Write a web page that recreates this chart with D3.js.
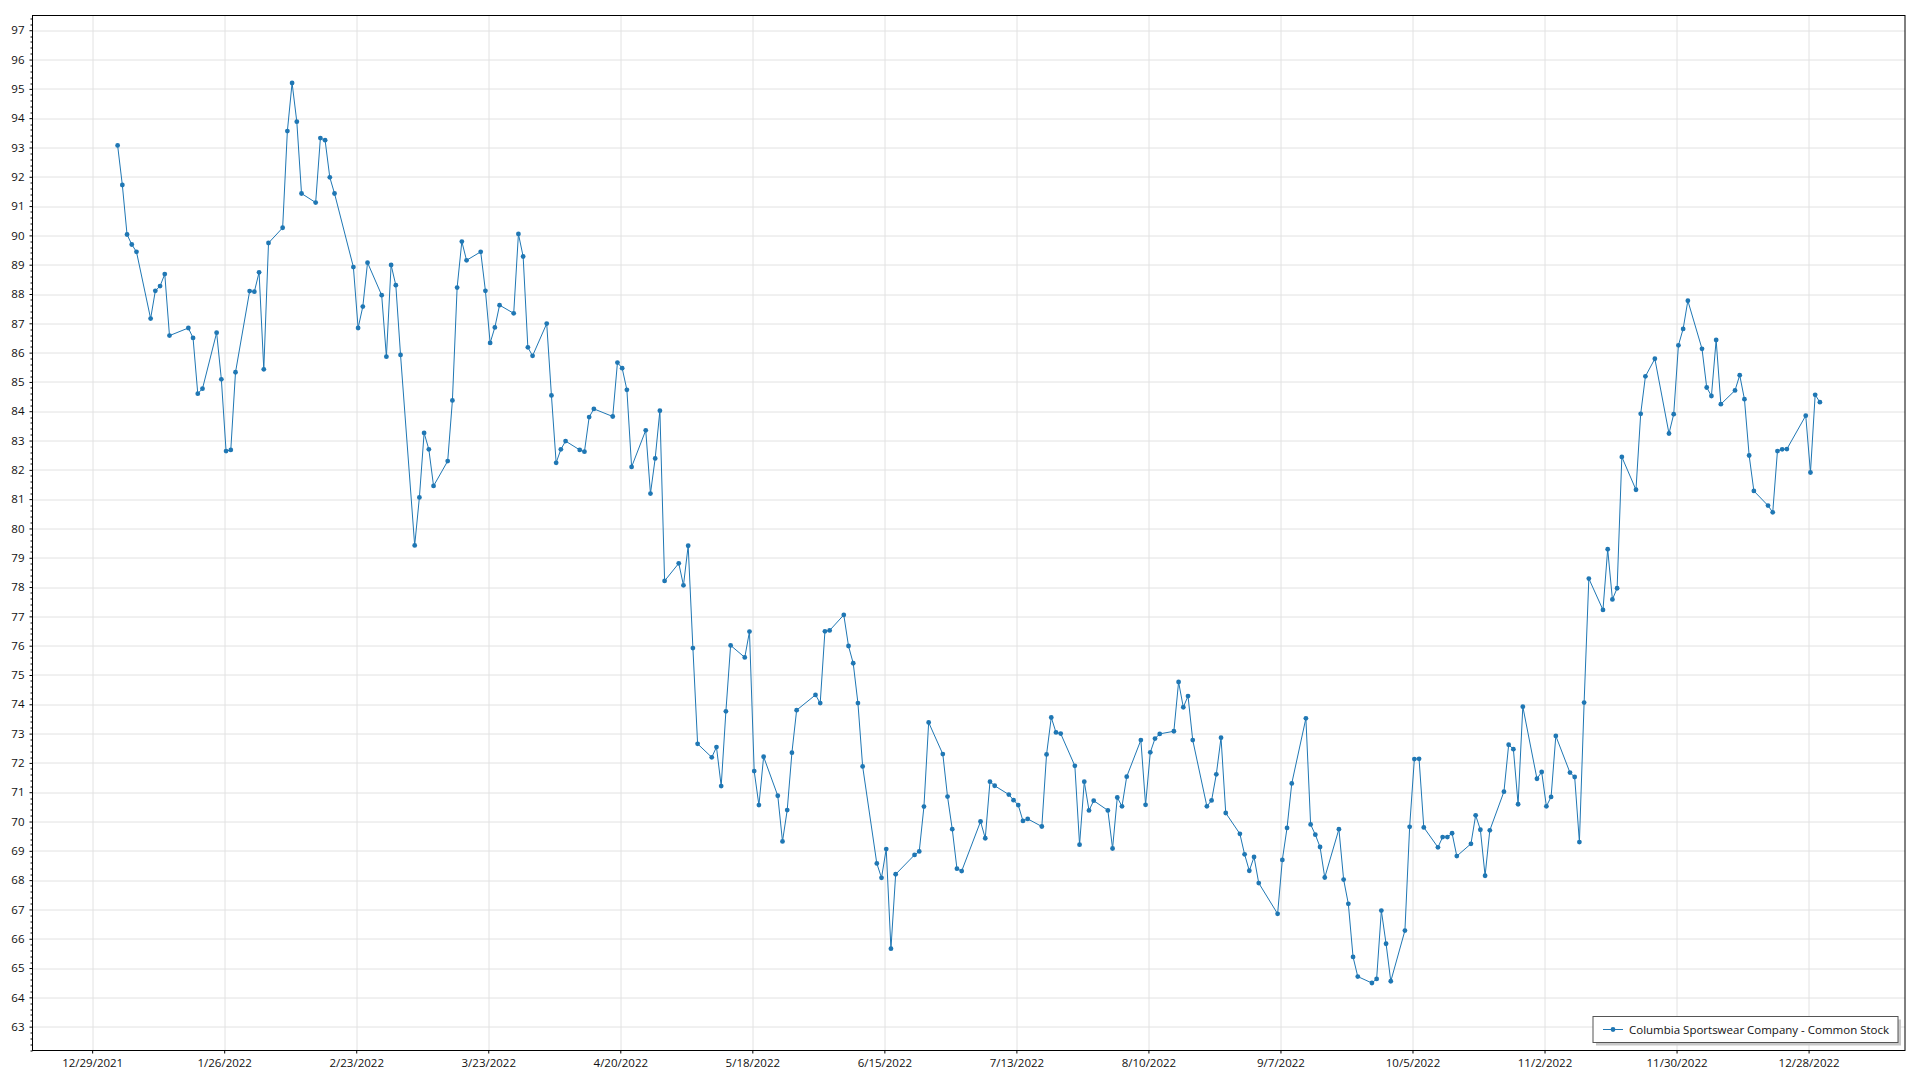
<!DOCTYPE html>
<html><head><meta charset="utf-8">
<script src="https://cdn.jsdelivr.net/npm/d3@7"></script>
<style>
body{margin:0;background:#fff}
svg{display:block}
text{font-family:"Open Sans","Noto Sans",sans-serif;}
</style>
</head><body><svg id="chart" width="1920" height="1080"></svg>
<script>
const seriesName = "Columbia Sportswear Company - Common Stock";

const tradeDates = [
"2022-01-03","2022-01-04","2022-01-05","2022-01-06","2022-01-07","2022-01-10","2022-01-11","2022-01-12","2022-01-13","2022-01-14","2022-01-18","2022-01-19","2022-01-20","2022-01-21","2022-01-24","2022-01-25","2022-01-26","2022-01-27","2022-01-28","2022-01-31",
"2022-02-01","2022-02-02","2022-02-03","2022-02-04","2022-02-07","2022-02-08","2022-02-09","2022-02-10","2022-02-11","2022-02-14","2022-02-15","2022-02-16","2022-02-17","2022-02-18","2022-02-22","2022-02-23","2022-02-24","2022-02-25","2022-02-28",
"2022-03-01","2022-03-02","2022-03-03","2022-03-04","2022-03-07","2022-03-08","2022-03-09","2022-03-10","2022-03-11","2022-03-14","2022-03-15","2022-03-16","2022-03-17","2022-03-18","2022-03-21","2022-03-22","2022-03-23","2022-03-24","2022-03-25","2022-03-28","2022-03-29","2022-03-30","2022-03-31",
"2022-04-01","2022-04-04","2022-04-05","2022-04-06","2022-04-07","2022-04-08","2022-04-11","2022-04-12","2022-04-13","2022-04-14","2022-04-18","2022-04-19","2022-04-20","2022-04-21","2022-04-22","2022-04-25","2022-04-26","2022-04-27","2022-04-28","2022-04-29",
"2022-05-02","2022-05-03","2022-05-04","2022-05-05","2022-05-06","2022-05-09","2022-05-10","2022-05-11","2022-05-12","2022-05-13","2022-05-16","2022-05-17","2022-05-18","2022-05-19","2022-05-20","2022-05-23","2022-05-24","2022-05-25","2022-05-26","2022-05-27","2022-05-31",
"2022-06-01","2022-06-02","2022-06-03","2022-06-06","2022-06-07","2022-06-08","2022-06-09","2022-06-10","2022-06-13","2022-06-14","2022-06-15","2022-06-16","2022-06-17","2022-06-21","2022-06-22","2022-06-23","2022-06-24","2022-06-27","2022-06-28","2022-06-29","2022-06-30",
"2022-07-01","2022-07-05","2022-07-06","2022-07-07","2022-07-08","2022-07-11","2022-07-12","2022-07-13","2022-07-14","2022-07-15","2022-07-18","2022-07-19","2022-07-20","2022-07-21","2022-07-22","2022-07-25","2022-07-26","2022-07-27","2022-07-28","2022-07-29",
"2022-08-01","2022-08-02","2022-08-03","2022-08-04","2022-08-05","2022-08-08","2022-08-09","2022-08-10","2022-08-11","2022-08-12","2022-08-15","2022-08-16","2022-08-17","2022-08-18","2022-08-19","2022-08-22","2022-08-23","2022-08-24","2022-08-25","2022-08-26","2022-08-29","2022-08-30","2022-08-31",
"2022-09-01","2022-09-02","2022-09-06","2022-09-07","2022-09-08","2022-09-09","2022-09-12","2022-09-13","2022-09-14","2022-09-15","2022-09-16","2022-09-19","2022-09-20","2022-09-21","2022-09-22","2022-09-23","2022-09-26","2022-09-27","2022-09-28","2022-09-29","2022-09-30",
"2022-10-03","2022-10-04","2022-10-05","2022-10-06","2022-10-07","2022-10-10","2022-10-11","2022-10-12","2022-10-13","2022-10-14","2022-10-17","2022-10-18","2022-10-19","2022-10-20","2022-10-21","2022-10-24","2022-10-25","2022-10-26","2022-10-27","2022-10-28","2022-10-31",
"2022-11-01","2022-11-02","2022-11-03","2022-11-04","2022-11-07","2022-11-08","2022-11-09","2022-11-10","2022-11-11","2022-11-14","2022-11-15","2022-11-16","2022-11-17","2022-11-18","2022-11-21","2022-11-22","2022-11-23","2022-11-25","2022-11-28","2022-11-29","2022-11-30",
"2022-12-01","2022-12-02","2022-12-05","2022-12-06","2022-12-07","2022-12-08","2022-12-09","2022-12-12","2022-12-13","2022-12-14","2022-12-15","2022-12-16","2022-12-19","2022-12-20","2022-12-21","2022-12-22","2022-12-23","2022-12-27","2022-12-28","2022-12-29","2022-12-30"
];

const closePrices = [
93.07,91.72,90.03,89.69,89.44,87.16,88.11,88.27,88.68,86.58,86.84,86.50,84.60,84.77,86.68,85.09,82.64,82.68,85.33,88.10,
88.08,88.74,85.43,89.74,90.26,93.56,95.20,93.88,91.43,91.12,93.32,93.25,91.98,91.43,88.92,86.84,87.57,89.07,87.96,
85.86,88.99,88.30,85.92,79.42,81.06,83.26,82.70,81.45,82.30,84.37,88.22,89.79,89.15,89.44,88.11,86.33,86.86,87.62,87.34,90.05,89.28,86.18,
85.89,86.99,84.54,82.24,82.70,82.98,82.68,82.62,83.80,84.08,83.82,85.66,85.47,84.73,82.10,83.35,81.19,82.39,84.02,78.21,
78.81,78.06,79.41,75.92,72.65,72.19,72.54,71.21,73.76,76.01,75.60,76.48,71.72,70.56,72.21,70.88,69.32,70.39,72.35,73.80,74.32,
74.04,76.49,76.52,77.05,75.99,75.40,74.04,71.88,68.57,68.08,69.06,65.66,68.20,68.86,68.98,70.51,73.38,72.30,70.85,69.74,68.39,
68.31,70.00,69.43,71.36,71.22,70.92,70.73,70.56,70.02,70.09,69.83,72.29,73.55,73.04,73.00,71.90,69.21,71.36,70.38,70.71,
70.38,69.08,70.82,70.52,71.53,72.78,70.57,72.36,72.83,72.99,73.08,74.76,73.90,74.28,72.78,70.52,70.72,71.61,72.86,70.29,69.58,68.88,68.32,
68.79,67.90,66.85,68.69,69.78,71.30,73.52,69.90,69.55,69.13,68.09,69.74,68.02,67.19,65.38,64.71,64.49,64.63,66.96,65.83,64.55,
66.28,69.82,72.13,72.14,69.80,69.12,69.47,69.47,69.60,68.82,69.24,70.21,69.72,68.15,69.70,71.02,72.62,72.47,70.59,73.92,71.46,
71.69,70.52,70.84,72.92,71.67,71.52,69.30,74.06,78.29,77.22,79.29,77.58,77.96,82.44,81.32,83.91,85.19,85.79,83.24,83.90,86.25,
86.81,87.77,86.13,84.81,84.52,86.43,84.24,84.71,85.23,84.41,82.49,81.28,80.78,80.55,82.64,82.70,82.71,83.85,81.91,84.56,84.31
];

const xTickDates = ["2021-12-29","2022-01-26","2022-02-23","2022-03-23","2022-04-20","2022-05-18","2022-06-15","2022-07-13","2022-08-10","2022-09-07","2022-10-05","2022-11-02","2022-11-30","2022-12-28"];
const yTickValues = [63,64,65,66,67,68,69,70,71,72,73,74,75,76,77,78,79,80,81,82,83,84,85,86,87,88,89,90,91,92,93,94,95,96,97];

const W = 1920, H = 1080;
const margin = {left: 32.5, top: 15.5, right: 15, bottom: 29.5};
const pw = W - margin.left - margin.right, ph = H - margin.top - margin.bottom;
const lineColor = "#1f77b4";

const data = tradeDates.map((d, i) => ({date: new Date(d + "T09:30:00Z"), value: closePrices[i]}));

const xExt = d3.extent(data, d => d.date.getTime());
const xPad = (xExt[1] - xExt[0]) * 0.05;
const yExt = d3.extent(data, d => d.value);
const yPad = (yExt[1] - yExt[0]) * 0.075;

const x = d3.scaleUtc().domain([new Date(xExt[0] - xPad), new Date(xExt[1] + xPad)]).range([0, pw]);
const y = d3.scaleLinear().domain([yExt[0] - yPad, yExt[1] + yPad]).range([ph, 0]);

const svg = d3.select("#chart");
svg.append("rect").attr("width", W).attr("height", H).attr("fill", "#fff");
const g = svg.append("g").attr("transform", `translate(${margin.left},${margin.top})`);

const xTicks = xTickDates.map(s => new Date(s + "T00:00:00Z"));
const fmt = d3.utcFormat("%-m/%-d/%Y");

// gridlines
g.append("g").selectAll("line").data(xTicks).join("line")
  .attr("x1", d => Math.round(x(d)) + 0.5).attr("x2", d => Math.round(x(d)) + 0.5)
  .attr("y1", 0).attr("y2", ph).attr("stroke", "#e2e2e2").attr("stroke-width", 1);
g.append("g").selectAll("line").data(yTickValues).join("line")
  .attr("y1", d => Math.round(y(d)) + 0.5).attr("y2", d => Math.round(y(d)) + 0.5)
  .attr("x1", 0).attr("x2", pw).attr("stroke", "#e2e2e2").attr("stroke-width", 1);

// minor y ticks
const minorY = d3.range(Math.ceil(y.domain()[0] * 5), Math.floor(y.domain()[1] * 5) + 1).map(v => v / 5).filter(v => Math.abs(v - Math.round(v)) > 1e-6);
g.append("g").selectAll("line").data(minorY).join("line")
  .attr("x1", -2).attr("x2", 0)
  .attr("y1", d => Math.round(y(d)) + 0.5).attr("y2", d => Math.round(y(d)) + 0.5)
  .attr("stroke", "#000").attr("stroke-width", 1);

// axes
const yAxis = d3.axisLeft(y).tickValues(yTickValues).tickSize(3).tickPadding(5).tickFormat(d3.format("d"));
const ya = g.append("g").call(yAxis);
ya.select(".domain").remove();
ya.selectAll("text").attr("font-size", 11.5).attr("fill", "#111");

const xAxis = d3.axisBottom(x).tickValues(xTicks).tickSize(3).tickPadding(5).tickFormat(fmt);
const xa = g.append("g").attr("transform", `translate(0,${ph})`).call(xAxis);
xa.select(".domain").remove();
xa.selectAll("text").attr("font-size", 11.5).attr("fill", "#111");

// border
g.append("rect").attr("x", 0).attr("y", 0).attr("width", pw).attr("height", ph)
  .attr("fill", "none").attr("stroke", "#000").attr("stroke-width", 1);

// series
const line = d3.line().x(d => x(d.date)).y(d => y(d.value));
g.append("path").datum(data).attr("d", line).attr("fill", "none")
  .attr("stroke", lineColor).attr("stroke-width", 1);
g.append("g").selectAll("circle").data(data).join("circle")
  .attr("cx", d => x(d.date)).attr("cy", d => y(d.value)).attr("r", 2.4).attr("fill", lineColor);

// legend
const lw = 305, lh = 26;
const lx = pw - 7 - lw, ly = ph - 8 - lh;
const lg = g.append("g").attr("transform", `translate(${lx},${ly})`);
lg.append("rect").attr("x", 3).attr("y", 3).attr("width", lw).attr("height", lh).attr("fill", "#c8c8c8");
lg.append("rect").attr("x", 0).attr("y", 0).attr("width", lw).attr("height", lh).attr("fill", "#fff").attr("stroke", "#555").attr("stroke-width", 1);
lg.append("line").attr("x1", 10).attr("x2", 30).attr("y1", lh / 2).attr("y2", lh / 2).attr("stroke", lineColor).attr("stroke-width", 1);
lg.append("circle").attr("cx", 20).attr("cy", lh / 2).attr("r", 2.4).attr("fill", lineColor);
lg.append("text").attr("x", 36).attr("y", lh / 2).attr("dy", "0.35em").attr("font-size", 11.5).attr("fill", "#111").text(seriesName);
</script>
</body></html>
